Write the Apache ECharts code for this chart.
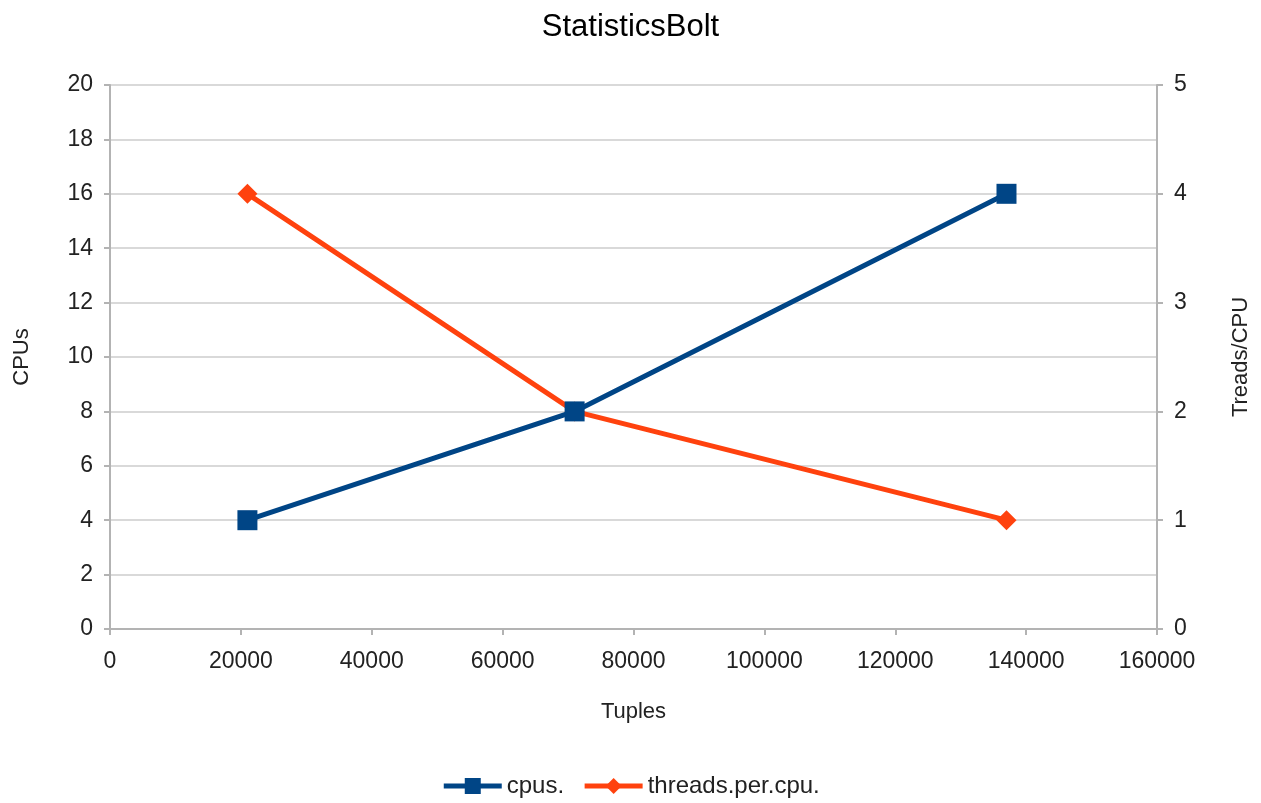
<!DOCTYPE html>
<html>
<head>
<meta charset="utf-8">
<script src="https://cdn.jsdelivr.net/npm/echarts@6/dist/echarts.min.js"></script>
<style>
html,body{margin:0;padding:0;background:#fff;}
#chart{width:1261px;height:803px;}
</style>
</head>
<body>
<div id="chart"></div>
<script>
// Tuples processed vs. resources for StatisticsBolt
const tuples = [21000, 71000, 137000];
const cpus = [4, 8, 16];
const threadsPerCpu = [4, 2, 1];
const seriesNames = ['cpus.', 'threads.per.cpu.'];

const font = '"Liberation Sans", Arial, sans-serif';
const gridColor = '#d9d9d9';
const axisColor = '#b3b3b3';
const textColor = '#222';
const tickSize = 23;
const nameSize = 22;

const chart = echarts.init(document.getElementById('chart'));
chart.setOption({
  animation: false,
  backgroundColor: '#fff',
  title: {
    text: 'StatisticsBolt',
    left: 'center',
    top: 7,
    textStyle: { fontFamily: font, fontSize: 31, fontWeight: 'normal', color: '#000' }
  },
  legend: {
    bottom: 0,
    left: 'center',
    itemWidth: 58,
    itemHeight: 20,
    itemGap: 18,
    textStyle: { fontFamily: font, fontSize: 24, color: textColor },
    lineStyle: { width: 5 },
    data: seriesNames
  },
  grid: { left: 110, right: 104, top: 85, bottom: 174 },
  xAxis: {
    type: 'value',
    min: 0, max: 160000, interval: 20000,
    name: 'Tuples',
    nameLocation: 'middle',
    nameGap: 72,
    nameTextStyle: { fontFamily: font, fontSize: nameSize, color: textColor },
    axisLine: { show: true, lineStyle: { color: axisColor, width: 2 } },
    axisTick: { show: true, length: 6, lineStyle: { color: axisColor, width: 2 } },
    axisLabel: { fontFamily: font, fontSize: tickSize, color: textColor, margin: 21, formatter: v => String(v) },
    splitLine: { show: false }
  },
  yAxis: [
    {
      type: 'value',
      min: 0, max: 20, interval: 2,
      name: 'CPUs',
      nameLocation: 'middle',
      nameGap: 77,
      nameRotate: 90,
      nameTextStyle: { fontFamily: font, fontSize: nameSize, color: textColor },
      axisLine: { show: true, lineStyle: { color: axisColor, width: 2 } },
      axisTick: { show: true, length: 6, lineStyle: { color: axisColor, width: 2 } },
      axisLabel: { fontFamily: font, fontSize: tickSize, color: textColor, margin: 17 },
      splitLine: { show: true, lineStyle: { color: gridColor, width: 2 } }
    },
    {
      type: 'value',
      min: 0, max: 5, interval: 1,
      name: 'Treads/CPU',
      nameLocation: 'middle',
      nameGap: 73,
      nameRotate: 90,
      nameTextStyle: { fontFamily: font, fontSize: nameSize, color: textColor },
      axisLine: { show: true, lineStyle: { color: axisColor, width: 2 } },
      axisTick: { show: true, length: 6, lineStyle: { color: axisColor, width: 2 } },
      axisLabel: { fontFamily: font, fontSize: tickSize, color: textColor, margin: 17 },
      splitLine: { show: false }
    }
  ],
  series: [
    {
      name: seriesNames[0],
      type: 'line',
      yAxisIndex: 0,
      data: tuples.map((t, i) => [t, cpus[i]]),
      symbol: 'rect',
      symbolSize: 20,
      itemStyle: { color: '#004586' },
      lineStyle: { color: '#004586', width: 5 },
      z: 3
    },
    {
      name: seriesNames[1],
      type: 'line',
      yAxisIndex: 1,
      data: tuples.map((t, i) => [t, threadsPerCpu[i]]),
      symbol: 'diamond',
      symbolSize: 20,
      itemStyle: { color: '#ff420e' },
      lineStyle: { color: '#ff420e', width: 5 },
      z: 2
    }
  ]
});
</script>
</body>
</html>
